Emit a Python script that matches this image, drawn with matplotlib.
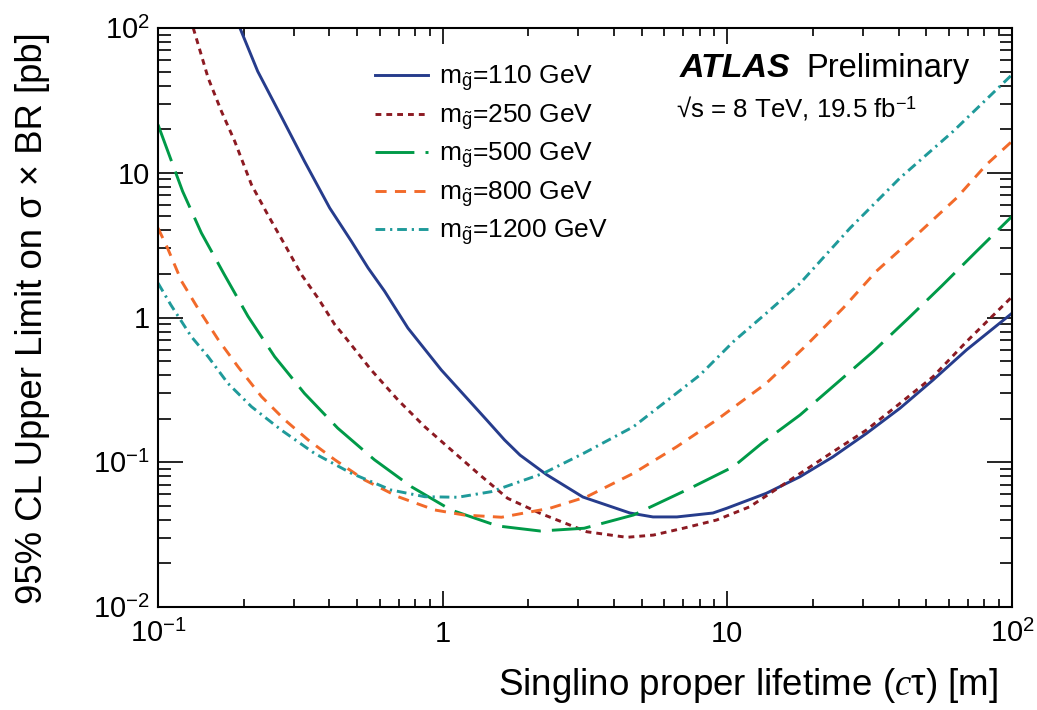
import matplotlib
matplotlib.use("Agg")
import matplotlib.pyplot as plt
from matplotlib.ticker import FixedLocator, FixedFormatter, NullFormatter, LogLocator

plt.rcParams['font.family'] = ['Liberation Sans', 'DejaVu Sans']
plt.rcParams['mathtext.fontset'] = 'custom'
plt.rcParams['mathtext.rm'] = 'Liberation Sans'
plt.rcParams['mathtext.it'] = 'Liberation Serif:italic'
plt.rcParams['mathtext.bf'] = 'Liberation Sans:bold'
plt.rcParams['lines.scale_dashes'] = False

# ---------------- data ----------------
labels = [r"m$_{\tilde{\mathrm{g}}}$=110 GeV", r"m$_{\tilde{\mathrm{g}}}$=250 GeV",
          r"m$_{\tilde{\mathrm{g}}}$=500 GeV", r"m$_{\tilde{\mathrm{g}}}$=800 GeV",
          r"m$_{\tilde{\mathrm{g}}}$=1200 GeV"]

x_110 = [0.194, 0.224, 0.271, 0.327, 0.401, 0.478, 0.547, 0.625, 0.755, 0.989, 1.295, 1.427,
         1.65, 1.87, 2.32, 3.11, 4.55, 5.48, 6.65, 8.9, 9.95, 13.7, 18.0, 23.5, 30.8, 40.4,
         52.8, 69.2, 100]
y_110 = [100, 50.2, 24.5, 12.0, 5.71, 3.36, 2.20, 1.52, 0.845, 0.434, 0.242, 0.196,
         0.1425, 0.112, 0.082, 0.0575, 0.0446, 0.0419, 0.0419, 0.0446, 0.0481, 0.061, 0.0794,
         0.109, 0.158, 0.236, 0.370, 0.597, 1.07]

x_250 = [0.133, 0.150, 0.167, 0.186, 0.213, 0.243, 0.279, 0.319, 0.365, 0.418, 0.453, 0.561,
         0.697, 0.865, 1.07, 1.33, 1.69, 2.20, 3.21, 4.43, 5.50, 7.0, 9.17, 12.0, 18.0, 23.5,
         30.8, 40.4, 52.8, 69.2, 100]
y_250 = [100, 45.2, 26.6, 16.5, 8.27, 5.13, 3.18, 1.98, 1.36, 0.892, 0.737, 0.434,
         0.269, 0.176, 0.122, 0.0839, 0.0564, 0.0444, 0.0331, 0.0303, 0.0314, 0.0350, 0.0399,
         0.0493, 0.0836, 0.118, 0.167, 0.255, 0.390, 0.681, 1.39]

x_500 = [0.1, 0.122, 0.142, 0.171, 0.207, 0.257, 0.327, 0.428, 0.576, 0.776, 1.07, 1.56,
         2.20, 3.14, 4.68, 7.40, 10.5, 13.2, 18.0, 24.2, 32.5, 43.2, 56.6, 75.1, 100]
y_500 = [21.5, 7.45, 3.84, 1.98, 1.02, 0.536, 0.299, 0.172, 0.104, 0.0678, 0.0468, 0.0363,
         0.0335, 0.0350, 0.0432, 0.0661, 0.0931, 0.135, 0.212, 0.351, 0.581, 0.986, 1.65,
         2.87, 5.0]

x_800 = [0.1, 0.108, 0.121, 0.138, 0.163, 0.191, 0.231, 0.279, 0.337, 0.418, 0.532, 0.697,
         0.938, 1.19, 1.61, 2.38, 3.21, 4.68, 6.64, 9.17, 13.7, 19.0, 25.5, 33.4, 45.0, 63.9,
         81.4, 100]
y_800 = [4.15, 3.02, 1.78, 1.16, 0.700, 0.457, 0.284, 0.196, 0.1425, 0.104, 0.0754, 0.0578,
         0.0468, 0.0432, 0.0417, 0.0481, 0.0578, 0.0839, 0.128, 0.196, 0.351, 0.646, 1.16,
         2.09, 3.54, 6.70, 11.4, 16.5]

x_1200 = [0.1, 0.111, 0.131, 0.150, 0.176, 0.213, 0.271, 0.355, 0.478, 0.659, 0.865, 1.13,
          1.48, 2.26, 3.12, 4.68, 8.02, 10.5, 13.7, 18.0, 27.0, 40.4, 62.1, 100]
y_1200 = [1.73, 1.22, 0.737, 0.536, 0.351, 0.242, 0.167, 0.115, 0.0839, 0.0643, 0.0578,
          0.0573, 0.0626, 0.0839, 0.115, 0.176, 0.401, 0.681, 1.07, 1.72, 4.15, 9.2, 19.3, 47.6]

xticks = [0.1, 1, 10, 100]
xticklabels = [r"$10^{-1}$", "1", "10", r"$10^{2}$"]
yticks = [0.01, 0.1, 1, 10, 100]
yticklabels = [r"$10^{-2}$", r"$10^{-1}$", "1", "10", r"$10^{2}$"]

# ---------------- styles ----------------
colors = ['#263c8c', '#8c1a22', '#009a48', '#f26a2a', '#1f9a9a']
dashes = [None, (4.2, 3.6), (28, 8), (8, 6), (7, 3.5, 1.6, 3.5)]
lw = 2.1

fig = plt.figure(figsize=(10.37, 7.10), dpi=100)
ax = fig.add_axes([158/1037, 1-607/710, (1012-158)/1037, (607-28)/710])

series = [(x_110, y_110), (x_250, y_250), (x_500, y_500), (x_800, y_800), (x_1200, y_1200)]
for (xs, ys), c, d, lab in zip(series, colors, dashes, labels):
    if d is None:
        ax.plot(xs, ys, color=c, lw=lw, label=lab, solid_joinstyle='round')
    else:
        ax.plot(xs, ys, color=c, lw=lw, label=lab, dashes=d)

ax.set_xscale('log')
ax.set_yscale('log')
ax.set_xlim(0.1, 100)
ax.set_ylim(0.01, 100)

ax.xaxis.set_major_locator(FixedLocator(xticks))
ax.xaxis.set_major_formatter(FixedFormatter(xticklabels))
ax.yaxis.set_major_locator(FixedLocator(yticks))
ax.yaxis.set_major_formatter(FixedFormatter(yticklabels))
ax.xaxis.set_minor_locator(LogLocator(base=10, subs=range(2, 10)))
ax.yaxis.set_minor_locator(LogLocator(base=10, subs=range(2, 10)))
ax.xaxis.set_minor_formatter(NullFormatter())
ax.yaxis.set_minor_formatter(NullFormatter())

for s in ax.spines.values():
    s.set_linewidth(1.5)

ax.tick_params(axis='x', which='major', direction='in', length=11.5, width=1.2,
               top=True, bottom=True, labelsize=21, pad=9)
ax.tick_params(axis='x', which='minor', direction='in', length=5.8, width=1.2,
               top=True, bottom=True)
ax.tick_params(axis='y', which='major', direction='in', length=18, width=1.2,
               left=True, right=True, labelsize=21, pad=6)
ax.tick_params(axis='y', which='minor', direction='in', length=9, width=1.2,
               left=True, right=True)

fig.text(998/1037, 1-695/710, r"Singlino proper lifetime ($\mathit{c}$τ) [m]",
         ha='right', va='baseline', fontsize=26.5)
fig.text(33/1037, 1-318/710, "95% CL Upper Limit on σ × BR [pb]",
         ha='center', va='center', rotation=90, fontsize=26.3)

leg = ax.legend(loc='upper left', bbox_to_anchor=((375-158)/854, (607-64)/579),
                frameon=False, borderaxespad=0, borderpad=0, fontsize=19,
                handlelength=2.0, handletextpad=0.42, labelspacing=0.32)

ax.text((680-158)/854, (607-77)/579, "ATLAS", transform=ax.transAxes,
        fontsize=24.5, fontweight='bold', fontstyle='italic', va='baseline', ha='left')
ax.text((806-158)/854, (607-77)/579, "Preliminary", transform=ax.transAxes,
        fontsize=23.5, va='baseline', ha='left')
ax.text((676-158)/854, (607-117)/579, "\u221as = 8 TeV, 19.5 fb$^{-1}$",
        transform=ax.transAxes, fontsize=18.6, va='baseline', ha='left')

fig.savefig("out.png", dpi=100)
